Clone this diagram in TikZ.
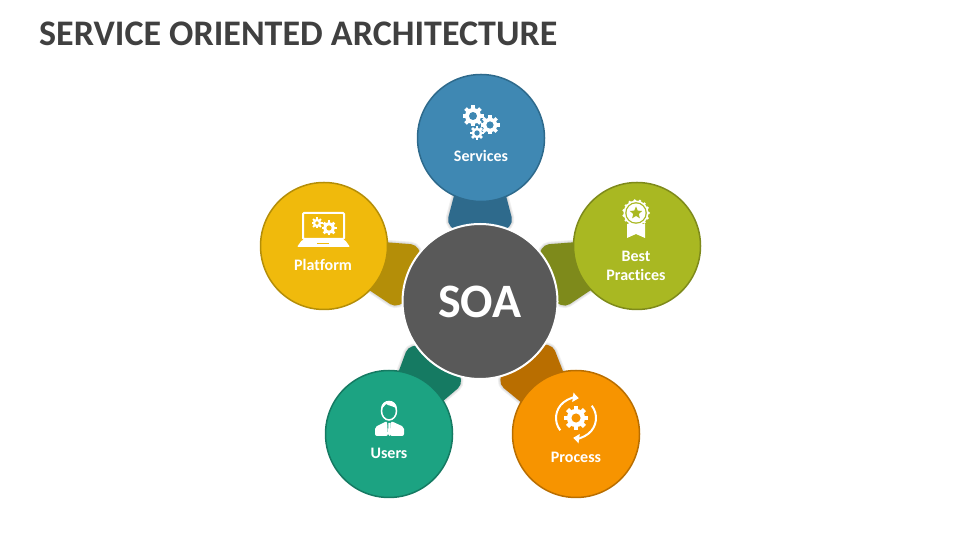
\documentclass[tikz,border=0pt]{standalone}
\usepackage{fontspec}
\setmainfont[Ligatures=NoCommon]{Carlito}
\usetikzlibrary{arrows.meta,shapes.geometric}

\tikzset{
  bubble/.style={circle,draw,line width=1.5pt,minimum size=127pt,inner sep=0pt},
  bubbletext/.style={text=white,font=\fontsize{16}{19}\selectfont\bfseries,align=center,inner sep=0pt}
}

\definecolor{svcfill}{HTML}{3F88B3}
\definecolor{svcdark}{HTML}{2E6A8C}
\definecolor{platfill}{HTML}{F0BA0C}
\definecolor{platdark}{HTML}{B48E08}
\definecolor{bestfill}{HTML}{A9B822}
\definecolor{bestdark}{HTML}{7E8A1B}
\definecolor{userfill}{HTML}{1CA382}
\definecolor{userdark}{HTML}{157A62}
\definecolor{procfill}{HTML}{F79400}
\definecolor{procdark}{HTML}{B96E00}

\newcommand{\petalshape}[2]{
\begin{scope}[shift={(soa)},rotate=#1]
\foreach \w in {5,3,1}
  \draw[black,opacity=0.06,line width=\w pt,rounded corners=5pt] (55,-10) -- (79,-33) -- (125,-21) -- (125,21) -- (79,33) -- (55,10) -- cycle;
\fill[#2,rounded corners=5pt] (55,-10) -- (79,-33) -- (125,-21) -- (125,21) -- (79,33) -- (55,10) -- cycle;
\end{scope}
}

\newcommand{\gearicon}[4]{
\begin{scope}[shift={(#1,#2)},scale=#3]
\fill[white] (0,0) circle (0.76);
\foreach \a in {0,45,...,315}
  \fill[white,rotate=\a] (-0.18,0.6) rectangle (0.18,1);
\fill[#4] (0,0) circle (0.38);
\end{scope}
}

\begin{document}
\begin{tikzpicture}[x=1pt,y=1pt]
\useasboundingbox (0,0) rectangle (960,540);

\node[anchor=base west,inner sep=0pt,text=black!75,font=\fontsize{36}{42}\selectfont\bfseries] (title) at (39,494) {SERVICE ORIENTED ARCHITECTURE};

\coordinate (soa) at (480,238.5);

\petalshape{90}{svcdark}
\petalshape{161}{platdark}
\petalshape{19}{bestdark}
\petalshape{235}{userdark}
\petalshape{-54}{procdark}

\node[bubble,fill=svcfill,draw=svcdark] (services) at (481,402) {};
\node[bubble,fill=platfill,draw=platdark] (platform) at (324,294) {};
\node[bubble,fill=bestfill,draw=bestdark] (best) at (637,294) {};
\node[bubble,fill=userfill,draw=userdark] (users) at (389,106) {};
\node[bubble,fill=procfill,draw=procdark] (process) at (576,106) {};

\node[circle,fill=black!65,draw=white,line width=2pt,minimum size=155pt,inner sep=0pt,text=white,font=\fontsize{48}{56}\selectfont\bfseries] (hub) at (soa) {SOA};

\node[bubbletext] (servicestext) at (481,384.5) {Services};
\node[bubbletext] (platformtext) at (323,275.5) {Platform};
\node[bubbletext] (besttext) at (636,274.5) {Best\\Practices};
\node[bubbletext] (userstext) at (389,86.5) {Users};
\node[bubbletext] (processtext) at (576,82.5) {Process};

% services
\gearicon{473}{424}{10.5}{svcfill}
\gearicon{490}{415}{9.5}{svcfill}
\gearicon{477}{407}{7}{svcfill}

% platform
\draw[white,line width=2pt,rounded corners=1pt] (303,301) rectangle (344,327);
\fill[white,rounded corners=1pt] (302,300) -- (345,300) -- (350,293) -- (297,293) -- cycle;
\fill[platfill] (317,295.5) rectangle (329,297);
\gearicon{317}{317}{5.5}{white}
\gearicon{329}{312}{7.5}{white}
\fill[platfill] (317,317) circle (1.8);
\fill[platfill] (329,312) circle (2.6);

% best practices
\fill[white] (627,316) -- (645,316) -- (645,302) -- (636,306) -- (627,302) -- cycle;
\foreach \a in {0,24,...,336}
  \fill[white] (636,327) ++(\a:12.5) circle (1.5);
\fill[white] (636,327) circle (12.5);
\fill[bestfill] (636,327) circle (10.8);
\fill[white] (636,327) circle (9.5);
\node[star,star points=5,star point ratio=2.2,fill=bestfill,inner sep=0pt,minimum size=13pt] (beststar) at (636,327) {};

% users
\fill[white,rounded corners=2pt] (375,104) -- (375,113) -- (387,119) -- (388,104) -- cycle;
\fill[white,rounded corners=2pt] (404,104) -- (404,113) -- (391,119) -- (390,104) -- cycle;
\fill[white] (388.5,117) -- (390.5,117) -- (391,106) -- (389.5,104) -- (388,106) -- cycle;
\draw[white,line width=1.5pt] (389,129) ellipse (7.5 and 9);
\fill[white] (381,131) .. controls (381,142) and (397,142) .. (397,131) .. controls (394,134) and (389,134) .. (386,136) .. controls (385,134) and (383,133) .. (381,131) -- cycle;

% process
\gearicon{576}{122}{12}{procfill}
\draw[white,line width=2pt,-{Triangle[length=6pt,width=9pt]}] (576,122) ++(218:20) arc (218:82:20);
\draw[white,line width=2pt,-{Triangle[length=6pt,width=9pt]}] (576,122) ++(38:20) arc (38:-98:20);
\end{tikzpicture}
\end{document}
